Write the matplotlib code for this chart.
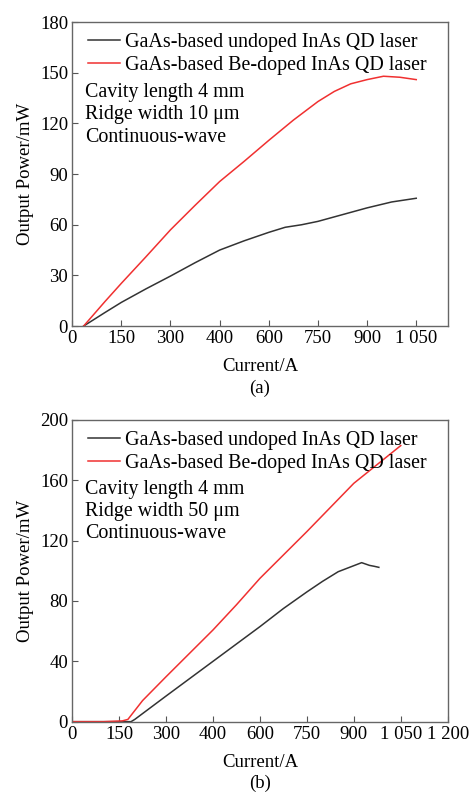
import matplotlib
matplotlib.use('Agg')
import matplotlib.pyplot as plt

plt.rcParams['font.family'] = ['Liberation Serif', 'DejaVu Serif']
plt.rcParams['font.size'] = 13.5

# (a) ridge 10 um -- x given in tick-position units (ticks are evenly spaced)
xa_undoped = [35, 100, 150, 225, 300, 375, 450, 525, 600, 650, 700, 750, 825, 900, 975, 1050]
ya_undoped = [0, 8, 14, 22, 29.6, 37.5, 45, 50.5, 55.5, 58.5, 60, 62, 66, 70, 73.5, 75.7]
xa_doped = [35, 100, 150, 225, 300, 375, 450, 525, 600, 675, 750, 800, 850, 900, 950, 1000, 1050]
ya_doped = [0, 14.5, 25.3, 41, 57, 71.5, 85.6, 97.6, 110, 122, 133, 139, 143.5, 146, 148, 147.4, 146]

# (b) ridge 50 um
xb_undoped = [0, 100, 188, 200, 300, 450, 525, 600, 675, 750, 800, 850, 900, 925, 950, 965, 980]
yb_undoped = [0, 0, 0, 1.5, 17, 40, 51.5, 63, 75, 86, 93, 99.4, 103.4, 105.4, 103.6, 103, 102.3]
xb_doped = [0, 100, 160, 178, 225, 300, 450, 525, 600, 750, 900, 1050]
yb_doped = [0, 0, 0.5, 1.5, 14, 29.8, 60.8, 77.5, 95, 126, 158, 183]

tick_pos_a = [0, 150, 300, 450, 600, 750, 900, 1050]
tick_lab_a = ['0', '150', '300', '400', '600', '750', '900', '1 050']
tick_pos_b = [0, 150, 300, 450, 600, 750, 900, 1050, 1200]
tick_lab_b = ['0', '150', '300', '400', '600', '750', '900', '1 050', '1 200']

labels = ['GaAs-based undoped InAs QD laser', 'GaAs-based Be-doped InAs QD laser']
notes_a = ['Cavity length 4 mm', 'Ridge width 10 \u03bcm', 'Continuous-wave']
notes_b = ['Cavity length 4 mm', 'Ridge width 50 \u03bcm', 'Continuous-wave']

fig = plt.figure(figsize=(4.75, 7.94), dpi=100)
axa = fig.add_axes([0.152, 0.5894, 0.7905, 0.3826])
axb = fig.add_axes([0.152, 0.0911, 0.7905, 0.3800])

def style(ax, xlim, ylim, ypos, xpos, xlab):
    ax.set_xlim(*xlim)
    ax.set_ylim(*ylim)
    ax.set_xticks(xpos)
    ax.set_xticklabels(xlab)
    ax.set_yticks(ypos)
    ax.tick_params(direction='in', length=4, width=0.8, color='#555555', pad=3)
    for s in ax.spines.values():
        s.set_color('#666666')
        s.set_linewidth(1.0)
    ax.set_xlabel('Current/A', labelpad=8)
    ax.set_ylabel('Output Power/mW', labelpad=4)

axa.plot(xa_undoped, ya_undoped, color='#333333', lw=1.1, label=labels[0])
axa.plot(xa_doped, ya_doped, color='#f03030', lw=1.1, label=labels[1])
style(axa, (0, 1146), (0, 180), [0, 30, 60, 90, 120, 150, 180], tick_pos_a, tick_lab_a)

axb.plot(xb_undoped, yb_undoped, color='#333333', lw=1.1, label=labels[0])
axb.plot(xb_doped, yb_doped, color='#f03030', lw=1.1, label=labels[1])
style(axb, (0, 1200), (0, 200), [0, 40, 80, 120, 160, 200], tick_pos_b, tick_lab_b)

for ax, notes, tag in [(axa, notes_a, '(a)'), (axb, notes_b, '(b)')]:
    ax.legend(loc='upper left', bbox_to_anchor=(0.02, 0.99), frameon=False, fontsize=14.4,
              handlelength=1.6, handletextpad=0.25, labelspacing=0.2, borderaxespad=0)
    for i, t in enumerate(notes):
        ax.text(0.034, 0.768 - i * 0.073, t, transform=ax.transAxes, va='center', fontsize=14.4)
    ax.text(0.5, -0.205, tag, transform=ax.transAxes, ha='center', va='center')

fig.savefig('out.png', dpi=100)
